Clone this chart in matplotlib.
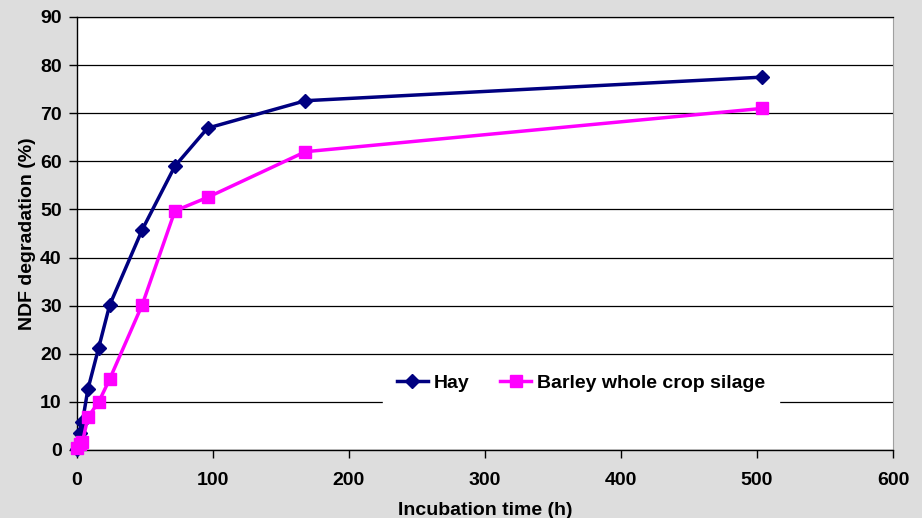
import matplotlib
matplotlib.use('Agg')
import matplotlib.pyplot as plt

hours = [0, 2, 4, 8, 16, 24, 48, 72, 96, 168, 504]
hay = [0.3, 3.5, 5.8, 12.6, 21.3, 30.1, 45.8, 59.0, 66.9, 72.6, 77.5]
barley = [0.4, 1.2, 1.6, 6.8, 10.0, 14.7, 30.2, 49.7, 52.5, 62.0, 71.0]
xticks = [0, 100, 200, 300, 400, 500, 600]
yticks = [0, 10, 20, 30, 40, 50, 60, 70, 80, 90]

plt.rcParams['font.family'] = ['Liberation Sans', 'DejaVu Sans']
plt.rcParams['font.weight'] = 'bold'

fig = plt.figure(figsize=(9.22, 5.18), dpi=100, facecolor='#dddddd')
ax = fig.add_axes([0.0835, 0.1313, 0.885, 0.8359])
ax.set_facecolor('white')

ax.plot(hours, hay, color='#000080', lw=2.5, marker='D', ms=7.5, label='Hay', zorder=3, clip_on=False)
ax.plot(hours, barley, color='#ff00ff', lw=2.5, marker='s', ms=8.5, label='Barley whole crop silage',
        zorder=3, clip_on=False)

ax.set_xlim(0, 600)
ax.set_ylim(0, 90)
ax.set_xticks(xticks)
ax.set_yticks(yticks)
ax.grid(axis='y', color='black', lw=0.9)
ax.set_axisbelow(True)
ax.spines['top'].set_color('black')
ax.spines['top'].set_linewidth(0.9)
ax.spines['right'].set_color('#a0a0a0')
ax.spines['right'].set_linewidth(0.8)
for s in ['left', 'bottom']:
    ax.spines[s].set_color('black')
    ax.spines[s].set_linewidth(1.0)
ax.tick_params(labelsize=14, length=6, width=1)
ax.tick_params(axis='x', pad=10)
ax.tick_params(axis='y', pad=5)
for lab in ax.get_xticklabels() + ax.get_yticklabels():
    lab.set_fontweight('bold')

ax.set_xlabel('Incubation time (h)', fontsize=14, fontweight='bold', labelpad=9)
ax.set_ylabel('NDF degradation (%)', fontsize=14, fontweight='bold', labelpad=3)

leg = ax.legend(ncol=2, loc='center', bbox_to_anchor=(581 / 922, 1 - 383 / 518), bbox_transform=fig.transFigure,
                frameon=True, fancybox=False, edgecolor='white', facecolor='white', framealpha=1,
                handlelength=1.6, handletextpad=0.3, columnspacing=1.6, borderpad=0.7,
                prop={'weight': 'bold', 'size': 14})
leg.set_zorder(5)

plt.savefig('out.png', dpi=100, facecolor=fig.get_facecolor())
